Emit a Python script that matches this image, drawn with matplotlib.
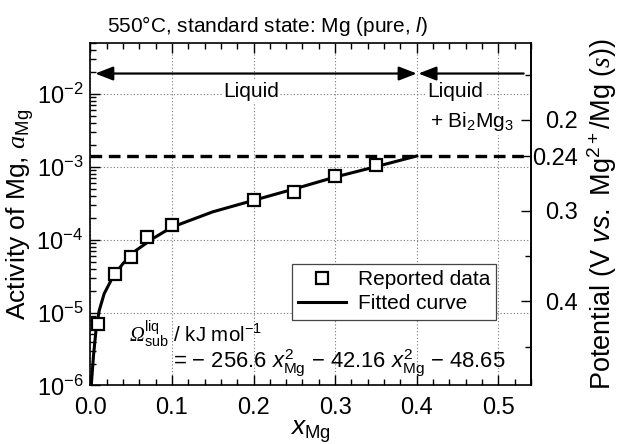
import numpy as np
import matplotlib
matplotlib.use("Agg")
import matplotlib.pyplot as plt
from matplotlib.ticker import MultipleLocator, NullFormatter, FixedLocator
from matplotlib.patches import FancyArrowPatch

plt.rcParams['font.family'] = ['Liberation Sans', 'DejaVu Sans']
plt.rcParams['mathtext.fontset'] = 'custom'
plt.rcParams['mathtext.rm'] = 'Liberation Sans'
plt.rcParams['mathtext.it'] = 'Liberation Sans:italic'
plt.rcParams['mathtext.bf'] = 'Liberation Sans:bold'
plt.rcParams['mathtext.cal'] = 'Liberation Serif:italic'

# reported activities of Mg in the melt
x_data = [0.01, 0.03, 0.05, 0.07, 0.10, 0.20, 0.25, 0.30, 0.35]
a_data = [6.9e-6, 3.33e-5, 5.75e-5, 1.08e-4, 1.6e-4, 3.52e-4, 4.49e-4, 7.36e-4, 1.05e-3]

# fitted activity curve
x_fit = [0.0012, 0.004, 0.007, 0.011, 0.017, 0.0275, 0.04, 0.056, 0.0765,
         0.10, 0.15, 0.20, 0.25, 0.30, 0.35, 0.40]
a_fit = [1.0e-6, 2.6e-6, 5.7e-6, 1.07e-5, 1.81e-5, 3.06e-5, 4.68e-5, 7.1e-5, 1.03e-4,
         1.48e-4, 2.4e-4, 3.45e-4, 4.95e-4, 7.2e-4, 1.0e-3, 1.4e-3]

# two-phase boundary
x_boundary = 0.40
E_boundary = 0.24

pot_major = [0.2, 0.24, 0.3, 0.4]
pot_labels = ['0.2', '0.24', '0.3', '0.4']
pot_minor = [0.15, 0.35, 0.45]

# potential scale: E = E0 - k*log10(a)
E0, k = 0.0103, 0.0804


def a_to_E(a):
    with np.errstate(divide='ignore', invalid='ignore'):
        return E0 - k * np.log10(np.asarray(a, dtype=float))


def E_to_a(E):
    return 10 ** ((E0 - np.asarray(E, dtype=float)) / k)


fig = plt.figure(figsize=(6.2, 4.44), dpi=100)
ax = fig.add_axes([0.1456, 0.1318, 0.7109, 0.7720])

ax.set_yscale('log')
ax.set_xlim(0, 0.54)
ax.set_ylim(1e-6, 0.05)

ax.grid(True, which='major', color='#777777', linestyle=(0, (1, 2)), linewidth=0.8)
ax.set_axisbelow(True)

a_boundary = float(E_to_a(E_boundary))
ax.axhline(a_boundary, color='black', lw=2.4, dashes=(3.5, 2.0), zorder=3)

ax.plot(x_fit, a_fit, color='black', lw=2.2, zorder=4, label='Fitted curve')
ax.plot(x_data, a_data, linestyle='none', marker='s', ms=8.5, mfc='white', mec='black',
        mew=1.6, zorder=5, label='Reported data')

# phase-region arrows
y_arrow = 0.0189
ax.add_patch(FancyArrowPatch((0.006, y_arrow), (x_boundary, y_arrow),
                             arrowstyle='<|-|>,head_length=0.9,head_width=0.35',
                             mutation_scale=12, color='black', lw=1.6,
                             shrinkA=0, shrinkB=0, zorder=6))
ax.add_patch(FancyArrowPatch((0.531, y_arrow), (0.402, y_arrow),
                             arrowstyle='-|>,head_length=0.9,head_width=0.35',
                             mutation_scale=12, color='black', lw=1.6,
                             shrinkA=0, shrinkB=0, zorder=6))

box = dict(facecolor='white', edgecolor='none', pad=1.0)
ax.text(0.197, 0.0108, 'Liquid', fontsize=15, ha='center', va='center', bbox=box)
ax.text(0.447, 0.0108, 'Liquid', fontsize=15, ha='center', va='center', bbox=box)
ax.text(0.468, 4.1e-3, '+ Bi$_2$Mg$_3$', fontsize=15, ha='center', va='center', bbox=box)

ax.text(0.048, 5.0e-6, r'$\mathcal{\Omega}^{\rm liq}_{\rm sub}$ / kJ mol$^{-1}$',
        fontsize=14.8, ha='left', va='center')
ax.text(0.101, 2.0e-6,
        '= \u2212 256.6 $x^2_{\\rm Mg}$ \u2212 42.16 $x^2_{\\rm Mg}$ \u2212 48.65',
        fontsize=15.8, ha='left', va='center')

handles, labels = ax.get_legend_handles_labels()
leg = ax.legend(handles[::-1], labels[::-1], loc='upper right',
                bbox_to_anchor=(0.921, 0.355), fontsize=15, frameon=True,
                fancybox=False, framealpha=1, edgecolor='#444444',
                handlelength=2.3, handletextpad=0.55, borderpad=0.3,
                labelspacing=0.25, borderaxespad=0)
leg.get_frame().set_linewidth(0.9)

# axes styling
for sp in ax.spines.values():
    sp.set_linewidth(1.2)
ax.xaxis.set_major_locator(MultipleLocator(0.1))
ax.xaxis.set_minor_locator(MultipleLocator(0.02))
ax.xaxis.set_major_formatter(plt.FuncFormatter(lambda v, p: f'{v:.1f}'))
ax.yaxis.set_major_locator(FixedLocator([1e-6, 1e-5, 1e-4, 1e-3, 1e-2]))
ax.yaxis.set_minor_formatter(NullFormatter())
ax.tick_params(axis='both', which='both', direction='in', right=False, width=1.0)
ax.tick_params(axis='x', which='both', top=True)
ax.tick_params(axis='both', which='major', length=7.5, labelsize=17)
ax.tick_params(axis='both', which='minor', length=4)
ax.tick_params(axis='x', which='major', pad=8)
ax.tick_params(axis='y', which='major', pad=5)

ax.set_xlabel('$x_{\\rm Mg}$', fontsize=19, labelpad=0)
ax.set_ylabel('Activity of Mg, $\\mathcal{a}_{\\rm Mg}$', fontsize=19, labelpad=0)

# potential axis
sec = ax.secondary_yaxis('right', functions=(a_to_E, E_to_a))
sec.spines['right'].set_linewidth(1.2)
sec.set_yticks(pot_major)
sec.set_yticklabels(pot_labels)
sec.set_yticks(pot_minor, minor=True)
sec.yaxis.set_minor_formatter(NullFormatter())
sec.tick_params(axis='y', which='both', direction='in', width=1.0)
sec.tick_params(axis='y', which='major', length=7.5, labelsize=17, pad=34)
sec.tick_params(axis='y', which='minor', length=4)
for lab in sec.get_yticklabels():
    lab.set_horizontalalignment('right')
sec.set_ylabel('Potential (V $\\mathit{vs.}$ Mg$^{2+}$/Mg ($\\mathcal{s}$))',
               fontsize=19.5, labelpad=5)

fig.text(0.1726, 1 - 31.7 / 444, '550\u00b0C, standard state: Mg (pure, $\\mathit{l}$)',
         fontsize=15, ha='left', va='baseline')

fig.savefig('out.png', dpi=100)
